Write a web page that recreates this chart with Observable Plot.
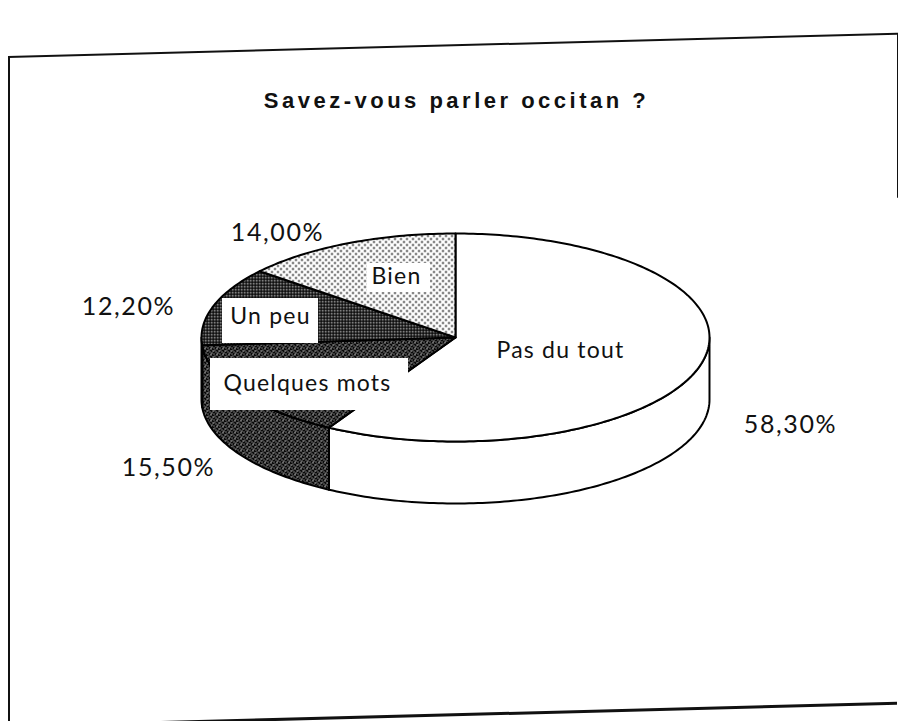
<!DOCTYPE html>
<html><head><meta charset="utf-8">
<script src="https://cdn.jsdelivr.net/npm/d3@7"></script>
<script src="https://cdn.jsdelivr.net/npm/@observablehq/plot@0.6"></script>
<style>
html,body{margin:0;padding:0;background:#fff;width:898px;height:721px;overflow:hidden;position:relative}
#frame{position:absolute;left:8px;top:56px;width:887px;height:667px;border-left:2px solid #111;border-top:2px solid #111;border-bottom:3px solid #111;transform-origin:0 0;transform:skewY(-1.5deg)}
#frame .r{position:absolute;right:-2px;top:-2px;width:0;height:165px;border-right:2px solid #111}
#chart{position:absolute;left:0;top:0}
</style></head><body>
<div id="frame"><div class="r"></div></div>
<div id="chart"></div>
<script>
// ---- data ----
const title = "Savez-vous parler occitan ?";
const categories = ["Pas du tout", "Quelques mots", "Un peu", "Bien"];
const values = [58.3, 15.5, 12.2, 14.0];
const percentLabels = ["58,30%", "15,50%", "12,20%", "14,00%"];

// ---- layout (positions / styles kept apart from data) ----
const W = 898, H = 721;
const pieGeom = {cx: 455, cy: 337, rx: 254, ry: 104, depth: 62};
const sliceFills = ["#ffffff", "url(#pat-qm)", "url(#pat-up)", "url(#pat-bien)"];
const pctPos = [[790, 424], [168, 467], [128, 306], [277, 232]];
const namePos = [[560, 350], [307, 383], [270, 316], [396, 276]];
const nameBox = [null, [210, 408, 358, 410], [222, 318, 298, 343], [367, 430, 263, 292]];
const titlePos = [456, 100];

// ---- geometry from the data ----
const arcs = d3.pie().sort(null).value(d => d)(values);
const {cx, cy, rx, ry, depth} = pieGeom;
const pt = (a, dy = 0) => ({x: cx + rx * Math.sin(a), y: cy - ry * Math.cos(a) + dy});
function arcPts(a0, a1, dy) {
  const n = Math.max(2, Math.ceil(Math.abs(a1 - a0) / (Math.PI / 180)));
  return d3.range(n + 1).map(i => pt(a0 + (a1 - a0) * i / n, dy));
}
const sides = [], tops = [];
arcs.forEach((a, i) => {
  const s0 = Math.max(a.startAngle, Math.PI / 2), s1 = Math.min(a.endAngle, 3 * Math.PI / 2);
  if (s0 < s1) sides.push({fill: sliceFills[i], pts: [...arcPts(s0, s1, 0), ...arcPts(s1, s0, depth)]});
  tops.push({fill: sliceFills[i], pts: [{x: cx, y: cy}, ...arcPts(a.startAngle, a.endAngle, 0)]});
});
const faceMark = f => Plot.line(f.pts, {x: "x", y: "y", curve: "linear-closed", fill: f.fill, stroke: "#000", strokeWidth: 2, strokeLinejoin: "round"});

const boxes = categories.map((c, i) => nameBox[i] && {x1: nameBox[i][0], x2: nameBox[i][1], y1: nameBox[i][2], y2: nameBox[i][3]}).filter(Boolean);
const pctData = percentLabels.map((t, i) => ({t, x: pctPos[i][0], y: pctPos[i][1]}));
const nameData = categories.map((t, i) => ({t, x: namePos[i][0], y: namePos[i][1]}));

const svg = Plot.plot({
  width: W, height: H, margin: 0,
  x: {type: "linear", domain: [0, W], range: [0, W], axis: null},
  y: {type: "linear", domain: [0, H], range: [0, H], axis: null},
  style: {background: "transparent", overflow: "visible"},
  marks: [
    ...sides.map(faceMark),
    ...tops.map(faceMark),
    Plot.rect(boxes, {x1: "x1", x2: "x2", y1: "y1", y2: "y2", fill: "white"}),
    Plot.text(nameData, {x: "x", y: "y", text: "t", fontFamily: "Lato", fontSize: 23, fill: "#111"}),
    Plot.text(pctData, {x: "x", y: "y", text: "t", fontFamily: "Lato", fontSize: 25, fill: "#111"}),
    Plot.text([title], {x: () => titlePos[0], y: () => titlePos[1], text: d => d, fontFamily: "Liberation Sans", fontWeight: "bold", fontSize: 22, fill: "#111"})
  ]
});

// patterns used as slice fills
const ns = "http://www.w3.org/2000/svg";
const defs = document.createElementNS(ns, "defs");
defs.innerHTML = `
<pattern id="pat-bien" width="6" height="6" patternUnits="userSpaceOnUse">
  <rect width="6" height="6" fill="#fff"/>
  <circle cx="1.5" cy="1.5" r="0.95" fill="#000"/>
  <circle cx="4.5" cy="4.5" r="0.95" fill="#000"/>
</pattern>
<pattern id="pat-up" width="3" height="3" patternUnits="userSpaceOnUse">
  <rect width="3" height="3" fill="#000"/>
  <rect x="0.5" y="0.5" width="1.4" height="1.4" fill="#fff"/>
</pattern>
<pattern id="pat-qm" width="6" height="6" patternUnits="userSpaceOnUse">
  <rect width="6" height="6" fill="#0a0a0a"/>
  <rect x="0" y="0" width="1" height="1" fill="#fff"/>
  <rect x="4" y="1" width="1" height="1" fill="#bbb"/>
  <rect x="2" y="2" width="1" height="1" fill="#fff"/>
  <rect x="5" y="3" width="1" height="1" fill="#ddd"/>
  <rect x="1" y="4" width="1" height="1" fill="#fff"/>
  <rect x="3" y="5" width="1" height="1" fill="#ccc"/>
  <rect x="3" y="2" width="1" height="1" fill="#888"/>
  <rect x="0" y="5" width="1" height="1" fill="#999"/>
</pattern>`;
svg.insertBefore(defs, svg.firstChild);
const spacing = new Map([[title, 3.5], ...percentLabels.map(t => [t, 1.6]), ...categories.map(t => [t, 1.2])]);
d3.select(svg).selectAll("text").each(function () {
  const s = spacing.get(this.textContent);
  if (s != null) this.setAttribute("letter-spacing", s);
});
document.getElementById("chart").appendChild(svg);
</script>
</body></html>
